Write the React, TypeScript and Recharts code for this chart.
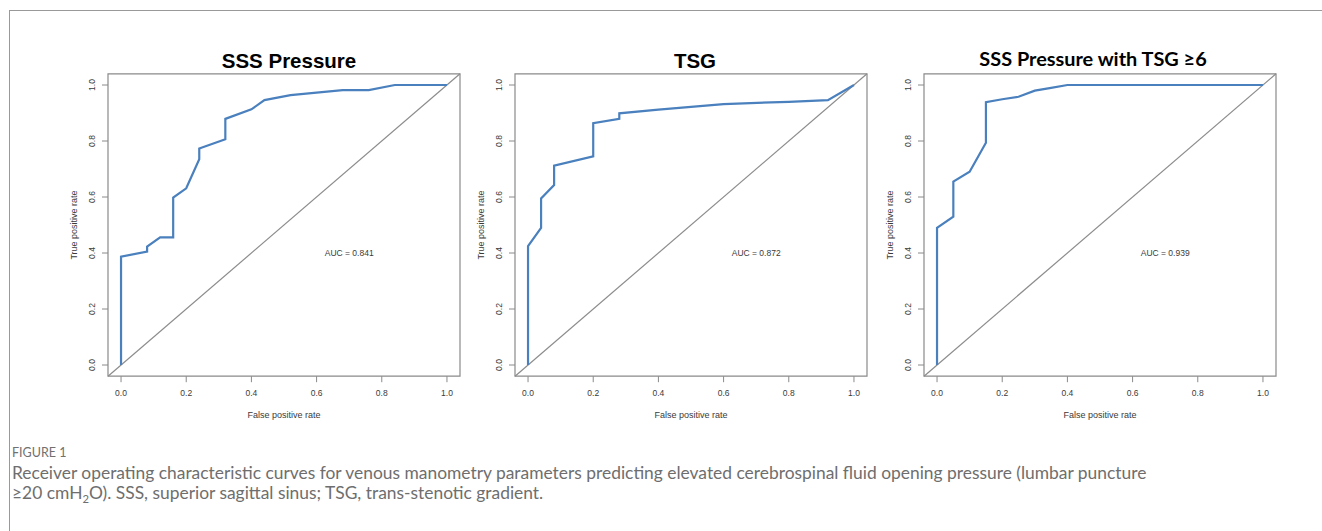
import React from 'react';
import { LineChart, Line, XAxis, YAxis, ReferenceArea, ReferenceLine, ReferenceDot } from 'recharts';

// ROC points (false positive rate / true positive rate)
const sssFpr = [0, 0, 0.08, 0.08, 0.12, 0.16, 0.16, 0.2, 0.24, 0.24, 0.32, 0.32, 0.4, 0.44, 0.52, 0.6, 0.68, 0.76, 0.84, 1.0];
const sssTpr = [0, 0.387, 0.405, 0.423, 0.456, 0.456, 0.598, 0.631, 0.735, 0.773, 0.806, 0.879, 0.913, 0.946, 0.964, 0.973, 0.982, 0.982, 1.0, 1.0];

const tsgFpr = [0, 0, 0.04, 0.04, 0.08, 0.08, 0.2, 0.2, 0.28, 0.28, 0.4, 0.6, 0.8, 0.92, 1.0];
const tsgTpr = [0, 0.425, 0.49, 0.595, 0.643, 0.712, 0.745, 0.864, 0.879, 0.899, 0.912, 0.932, 0.94, 0.946, 1.0];

const comboFpr = [0, 0, 0.05, 0.05, 0.1, 0.15, 0.15, 0.2, 0.25, 0.3, 0.35, 0.4, 1.0];
const comboTpr = [0, 0.49, 0.53, 0.655, 0.69, 0.794, 0.939, 0.949, 0.958, 0.98, 0.99, 1.0, 1.0];

const panelTitles = ['SSS Pressure', 'TSG', 'SSS Pressure with TSG \u22656'];
const aucLabels = ['AUC = 0.841', 'AUC = 0.872', 'AUC = 0.939'];
const axisTicks = [0, 0.2, 0.4, 0.6, 0.8, 1.0];
const axisDomain = [-0.04, 1.04];
const diagonal = [{ x: -0.04, y: -0.04 }, { x: 1.04, y: 1.04 }];

const toPoints = (fpr: number[], tpr: number[]) => fpr.map((f, i) => ({ fpr: f, tpr: tpr[i] }));

const curves = [toPoints(sssFpr, sssTpr), toPoints(tsgFpr, tsgTpr), toPoints(comboFpr, comboTpr)];

const ROC_BLUE = '#4a80bd';
const AXIS_GRAY = '#8a8a8a';
const TEXT_GRAY = '#3a3a3a';
const rFont = '"Liberation Sans", Arial, sans-serif';

const XTick = (props: any) => {
  const { x, y, payload } = props;
  return (
    <text x={x} y={y} dy={11.5} textAnchor="middle" fontSize={8.5} fontFamily={rFont} fill={TEXT_GRAY}>
      {payload.value.toFixed(1)}
    </text>
  );
};

const YTick = (props: any) => {
  const { x, y, payload } = props;
  const px = x - 5;
  return (
    <text x={px} y={y} transform={`rotate(-90, ${px}, ${y})`} textAnchor="middle" fontSize={8.5} fontFamily={rFont} fill={TEXT_GRAY}>
      {payload.value.toFixed(1)}
    </text>
  );
};

const XTitle = (props: any) => {
  const { x, y, width } = props.viewBox;
  return (
    <text x={x + width / 2} y={y + 42} textAnchor="middle" fontSize={9} fontFamily={rFont} fill={TEXT_GRAY}>
      False positive rate
    </text>
  );
};

const YTitle = (props: any) => {
  const { x, y, width, height } = props.viewBox;
  const px = x + width - 31;
  const py = y + height / 2;
  return (
    <text x={px} y={py} transform={`rotate(-90, ${px}, ${py})`} textAnchor="middle" fontSize={9} fontFamily={rFont} fill={TEXT_GRAY}>
      True positive rate
    </text>
  );
};

const frameLefts = [108, 515, 924];
const titleCenters = [289, 695, 1093];

const RocPanel = ({ index }: { index: number }) => {
  const left = frameLefts[index] - 48;
  return (
    <div style={{ position: 'absolute', left, top: 40 }}>
      <LineChart width={410} height={390} margin={{ top: 33.8, right: 10, left: 0, bottom: 0 }}>
        <XAxis
          dataKey="fpr"
          type="number"
          domain={axisDomain}
          ticks={axisTicks}
          allowDataOverflow
          axisLine={false}
          tickLine={{ stroke: AXIS_GRAY }}
          tickSize={6}
          height={53.8}
          tick={<XTick />}
          label={{ content: <XTitle /> }}
        />
        <YAxis
          dataKey="tpr"
          type="number"
          domain={axisDomain}
          ticks={axisTicks}
          allowDataOverflow
          axisLine={false}
          tickLine={{ stroke: AXIS_GRAY }}
          tickSize={6}
          width={48}
          tick={<YTick />}
          label={{ content: <YTitle /> }}
        />
        <ReferenceArea x1={-0.04} x2={1.04} y1={-0.04} y2={1.04} fill="none" stroke={AXIS_GRAY} strokeWidth={1.2} fillOpacity={0} />
        <ReferenceLine segment={diagonal} stroke="#8c8c8c" strokeWidth={1.2} />
        <Line
          data={curves[index]}
          dataKey="tpr"
          type="linear"
          stroke={ROC_BLUE}
          strokeWidth={2.2}
          dot={false}
          isAnimationActive={false}
        />
        <ReferenceDot
          x={0.7}
          y={0.4}
          r={0}
          fill="none"
          stroke="none"
          label={{ value: aucLabels[index], position: 'center', fontSize: 8.5, fontFamily: rFont, fill: TEXT_GRAY }}
        />
      </LineChart>
    </div>
  );
};

const App = () => {
  return (
    <div style={{ position: 'absolute', left: 0, top: 0, width: 1322, height: 531, background: '#fff', overflow: 'hidden' }}>
      <div style={{ position: 'absolute', left: 9, top: 10, right: 0, bottom: 0, borderTop: '1.5px solid #999', borderLeft: '1.5px solid #999' }} />
      {[0, 1, 2].map(i => (
        <RocPanel key={i} index={i} />
      ))}
      {panelTitles.map((t, i) => (
        <div
          key={t}
          style={{
            position: 'absolute',
            left: titleCenters[i] - 200,
            width: 400,
            top: i === 2 ? 46 : 49,
            textAlign: 'center',
            fontFamily: i === 2 ? 'Lato, sans-serif' : rFont,
            fontWeight: 700,
            fontSize: i === 2 ? 19.9 : 20.5,
            lineHeight: '24px',
            color: '#000'
          }}
        >
          {t}
        </div>
      ))}
      <div style={{ position: 'absolute', left: 12, top: 444, fontFamily: 'Lato, sans-serif', fontSize: 12.5, color: '#707070', lineHeight: '18px' }}>
        FIGURE 1
      </div>
      <div style={{ position: 'absolute', left: 12, top: 463, fontFamily: 'Lato, sans-serif', fontSize: 17.4, color: '#6e6e6e', lineHeight: '20px', whiteSpace: 'nowrap' }}>
        <div>Receiver operating characteristic curves for venous manometry parameters predicting elevated cerebrospinal fluid opening pressure (lumbar puncture</div>
        <div>
          {'\u2265'}20 cmH<sub style={{ fontSize: '0.65em', lineHeight: 0 }}>2</sub>O). SSS, superior sagittal sinus; TSG, trans-stenotic gradient.
        </div>
      </div>
    </div>
  );
};

export default App;
